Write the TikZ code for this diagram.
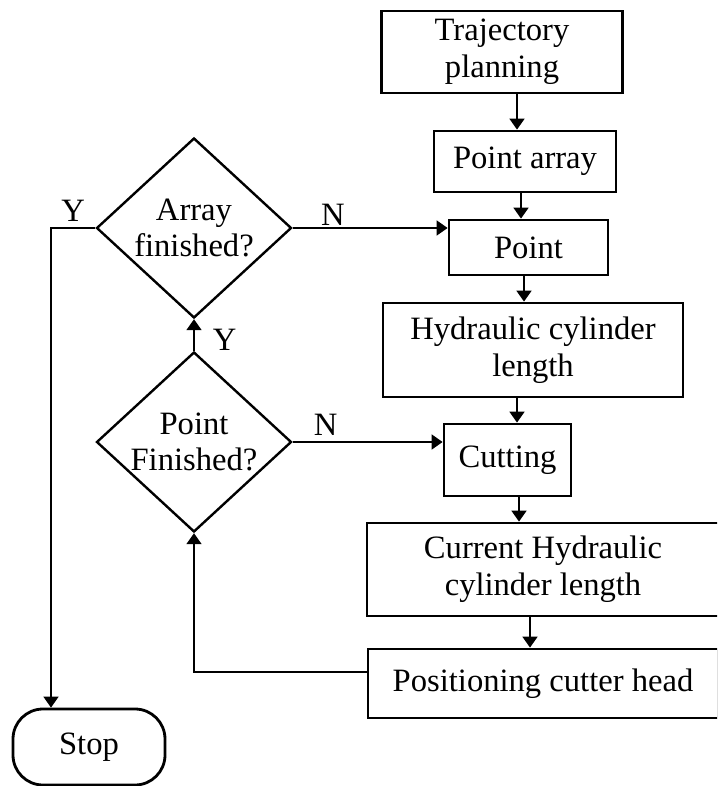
\documentclass[tikz,border=0pt]{standalone}
\usepackage{fontspec}
\setmainfont{Liberation Serif}
\usetikzlibrary{shapes.geometric,arrows.meta}

\begin{document}
\begin{tikzpicture}[x=0.5pt, y=-0.5pt, >={Triangle[width=7.5pt,length=5.5pt]},
        box/.style={draw, line width=1.4pt, align=center, inner sep=0pt, font=\fontsize{16.3}{18.3}\selectfont},
        dec/.style={draw, diamond, aspect=1.08, line width=1.2pt, align=center, inner sep=0pt,
                minimum width=97.5pt, minimum height=90pt, font=\fontsize{16.3}{18.3}\selectfont},
        flow/.style={line width=0.9pt, ->},
        lab/.style={inner sep=0pt, font=\fontsize{16.3}{18.3}\selectfont}]
        \useasboundingbox (0,0) rectangle (717,786);
        \clip (0,0) rectangle (717,786);

        \path 
        (517,0) coordinate (c1)
        (521,0) coordinate (c2)
        (524,0) coordinate (c3)
        (517,0) coordinate (c4)
        (519,0) coordinate (c5)
        (530,0) coordinate (c6)
        (51,0) coordinate (yl)
        (194,672) coordinate (lp)
        ;

        \node[box, minimum width=120.5pt, minimum height=41pt] (traj) at (502,52) {Trajectory\\planning};
        \node[box, minimum width=91pt, minimum height=30.5pt] (parr) at (525,161.5) {Point array};
        \node[box, minimum width=79.5pt, minimum height=27.5pt] (point) at (528.5,247.5) {Point};
        \node[box, minimum width=150pt, minimum height=47pt] (hyd) at (533,350) {Hydraulic cylinder\\length};
        \node[box, minimum width=63.5pt, minimum height=36pt] (cut) at (507.5,460) {Cutting};
        \node[box, minimum width=176pt, minimum height=46.5pt] (cur) at (543,569.5) {Current Hydraulic\\cylinder length};
        \node[box, minimum width=175pt, minimum height=34.5pt] (pos) at (543,683.5) {Positioning cutter head};
        \node[box, rounded corners=15pt, minimum width=76pt, minimum height=38pt] (stop) at (89,747) {Stop};

        \node[dec] (arr) at (194,228) {Array\\finished?};
        \node[dec] (pf) at (194,442) {Point\\Finished?};

        \draw[flow] (traj.south -| c1) -- (parr.north -| c1);
        \draw[flow] (parr.south -| c2) -- (point.north -| c2);
        \draw[flow] (point.south -| c3) -- (hyd.north -| c3);
        \draw[flow] (hyd.south -| c4) -- (cut.north -| c4);
        \draw[flow] (cut.south -| c5) -- (cur.north -| c5);
        \draw[flow] (cur.south -| c6) -- (pos.north -| c6);

        \draw[flow] (arr.east) -- node[lab, pos=0.26, above=1pt] {N} (arr.east -| point.west);
        \draw[flow] (pf.east) -- node[lab, pos=0.22, above=3pt] {N} (pf.east -| cut.west);
        \draw[flow] (pf.north) -- node[lab, pos=0.35, right=9pt] {Y} (arr.south);
        \draw[flow] (arr.west) -- node[lab, above=3pt] {Y} (arr.west -| yl) -- (stop.north -| yl);
        \draw[flow] (lp -| pos.west) -- (lp) -- (pf.south);
\end{tikzpicture}
\end{document}
